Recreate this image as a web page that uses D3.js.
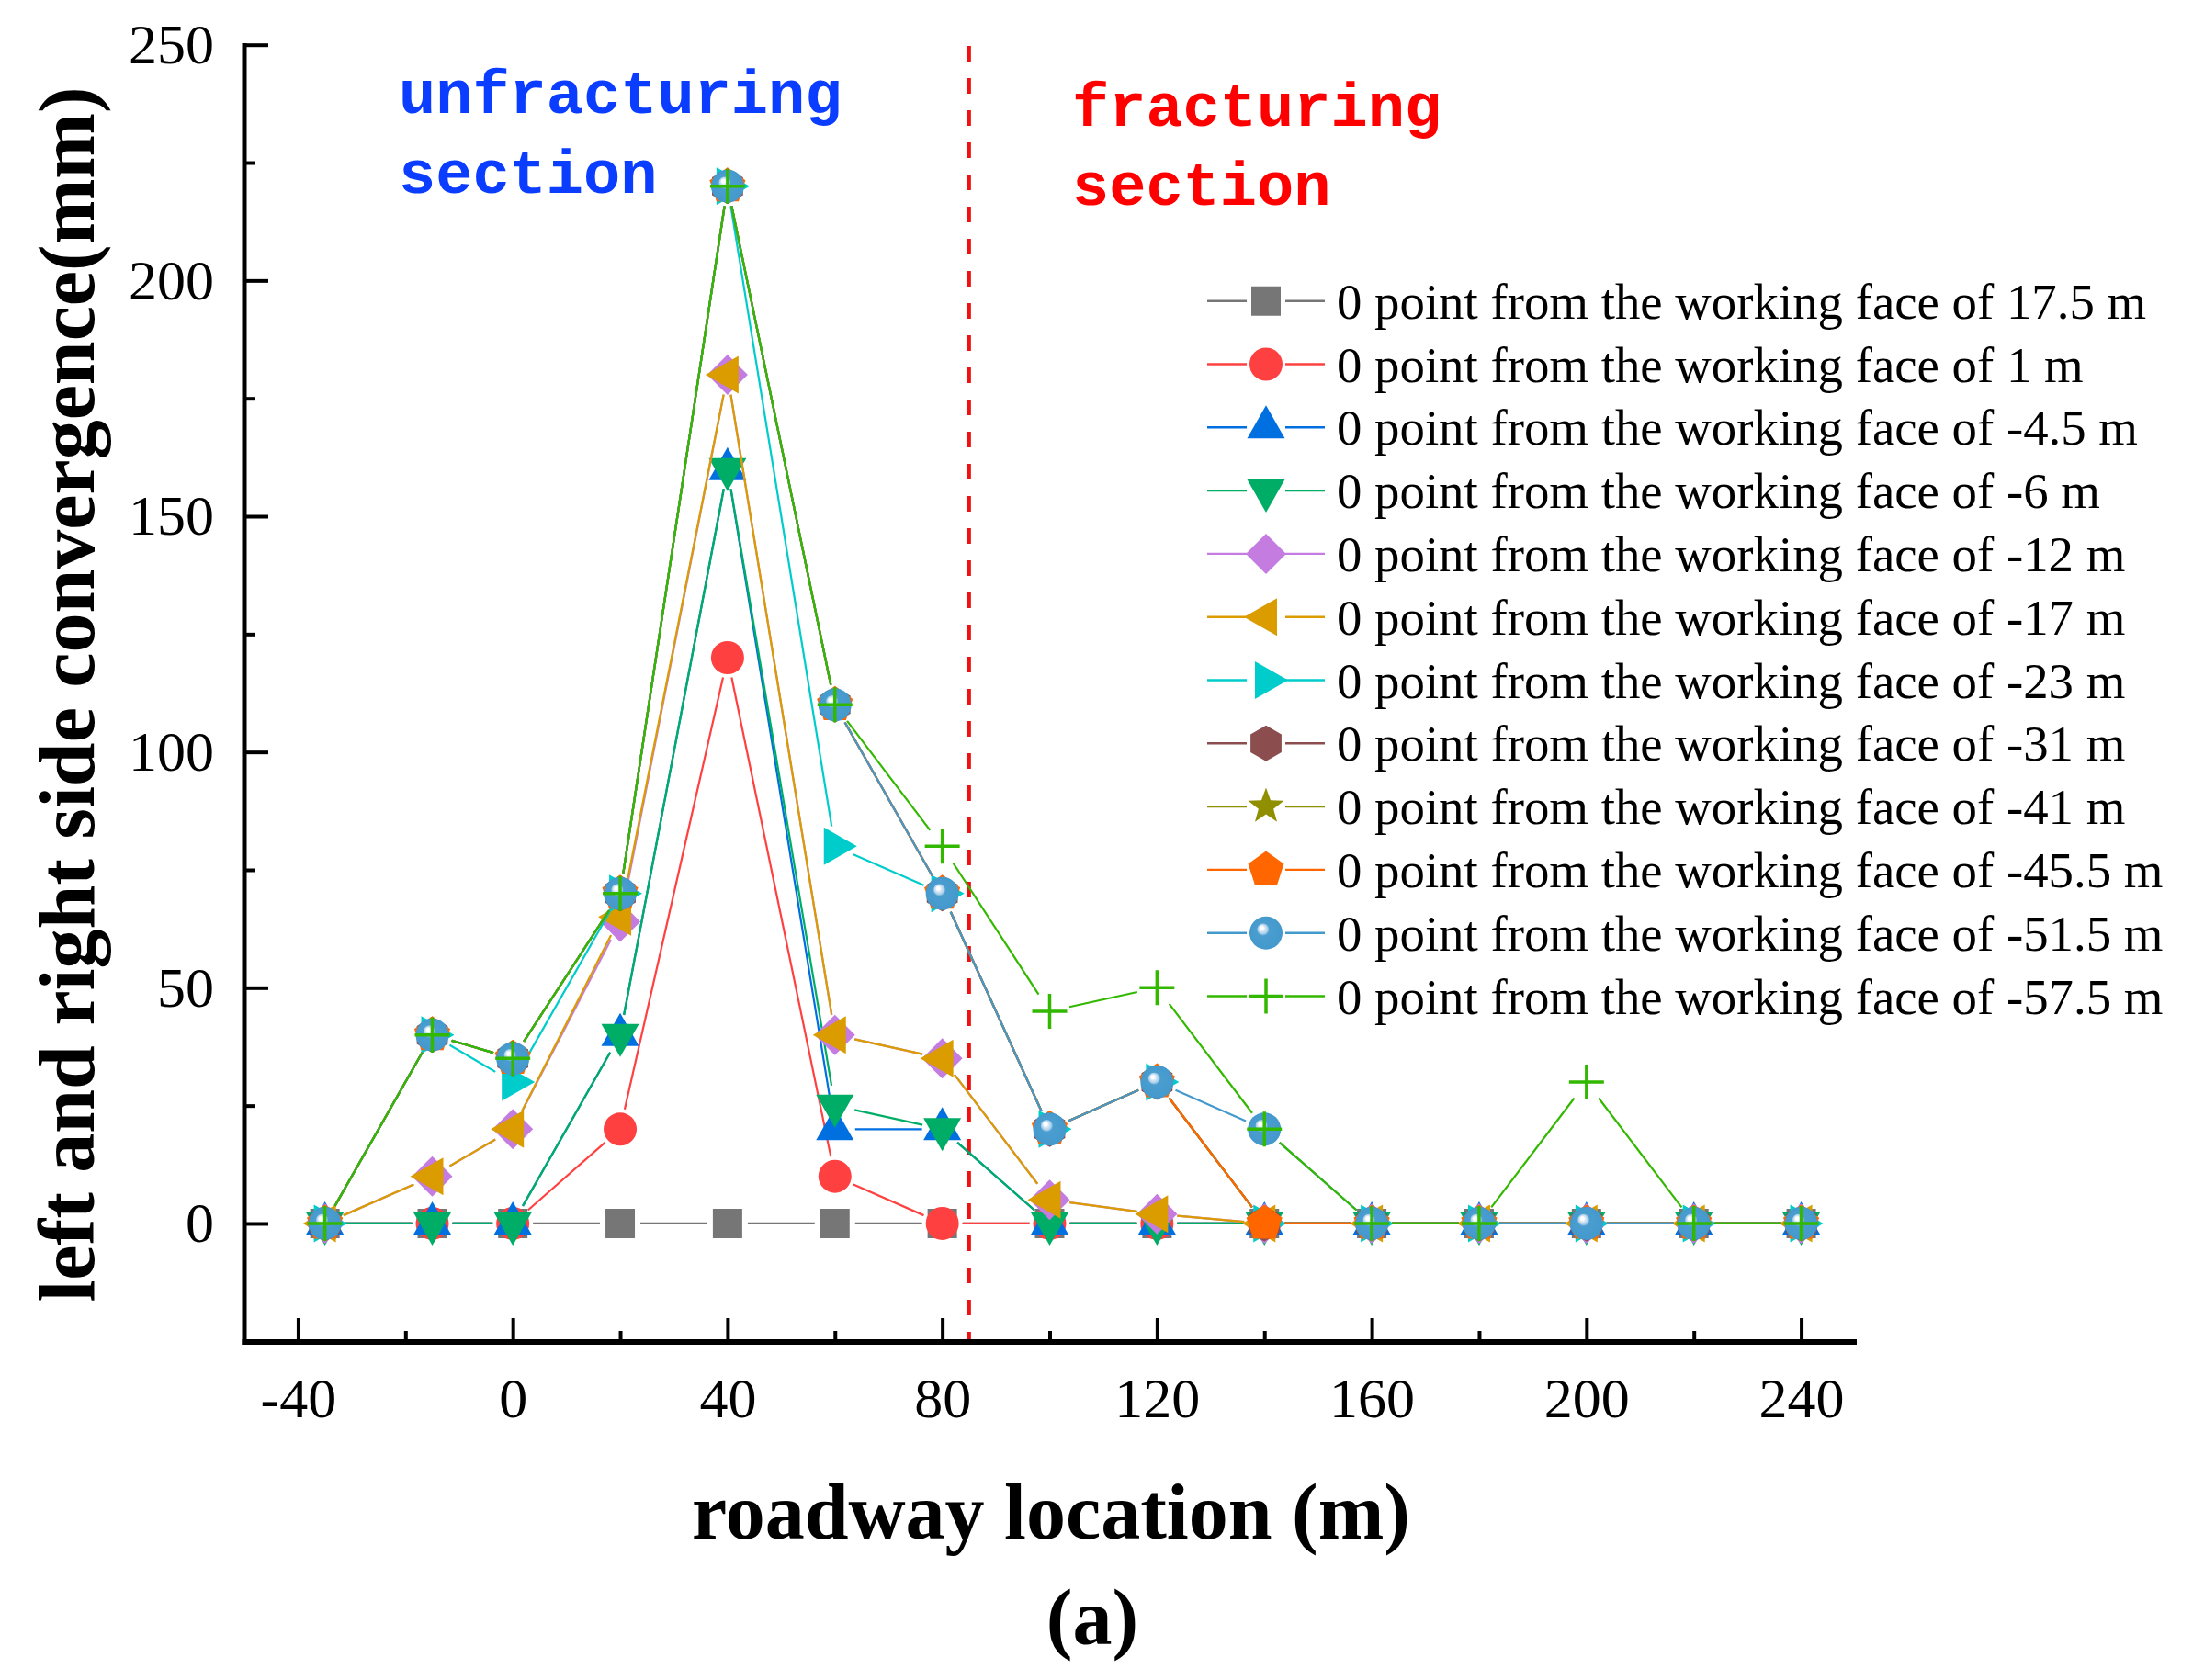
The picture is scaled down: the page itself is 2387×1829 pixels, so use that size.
<!DOCTYPE html>
<html><head><meta charset="utf-8">
<script src="https://cdn.jsdelivr.net/npm/d3@7"></script>
<style>body{margin:0;background:#fff}</style>
</head><body>
<script>
// ---------- data ----------
const roadwayLocation = [-35, -15, 0, 20, 40, 60, 80, 100, 120, 140, 160, 180, 200, 220, 240];
const seriesLabels = [
  "0 point from the working face of 17.5 m",
  "0 point from the working face of 1 m",
  "0 point from the working face of -4.5 m",
  "0 point from the working face of -6 m",
  "0 point from the working face of -12 m",
  "0 point from the working face of -17 m",
  "0 point from the working face of -23 m",
  "0 point from the working face of -31 m",
  "0 point from the working face of -41 m",
  "0 point from the working face of -45.5 m",
  "0 point from the working face of -51.5 m",
  "0 point from the working face of -57.5 m"
];
const conv_17_5 = [0, 0, 0, 0, 0, 0, 0, 0, 0, 0, 0, 0, 0, 0, 0];
const conv_1    = [0, 0, 0, 20, 120, 10, 0, 0, 0, 0, 0, 0, 0, 0, 0];
const conv_m4_5 = [0, 0, 0, 40, 160, 20, 20, 0, 0, 0, 0, 0, 0, 0, 0];
const conv_m6   = [0, 0, 0, 40, 160, 25, 20, 0, 0, 0, 0, 0, 0, 0, 0];
const conv_m12  = [0, 10, 20, 64, 180, 40, 35, 5, 2, 0, 0, 0, 0, 0, 0];
const conv_m17  = [0, 10, 20, 65, 180, 40, 35, 5, 2, 0, 0, 0, 0, 0, 0];
const conv_m23  = [0, 40, 30, 70, 220, 80, 70, 20, 30, 0, 0, 0, 0, 0, 0];
const conv_m31  = [0, 40, 35, 70, 220, 110, 70, 20, 30, 0, 0, 0, 0, 0, 0];
const conv_m41  = [0, 40, 35, 70, 220, 110, 70, 20, 30, 0, 0, 0, 0, 0, 0];
const conv_m45_5= [0, 40, 35, 70, 220, 110, 70, 20, 30, 0, 0, 0, 0, 0, 0];
const conv_m51_5= [0, 40, 35, 70, 220, 110, 70, 20, 30, 20, 0, 0, 0, 0, 0];
const conv_m57_5= [0, 40, 35, 70, 220, 110, 80, 45, 50, 20, 0, 0, 30, 0, 0];
const xTickValues = [-40, 0, 40, 80, 120, 160, 200, 240];
const xMinorTickValues = [-20, 20, 60, 100, 140, 180, 220];
const yTickValues = [0, 50, 100, 150, 200, 250];
const yMinorTickValues = [25, 75, 125, 175, 225];
const fractureBoundary = 85;

// ---------- styles ----------
const seriesValues = [conv_17_5, conv_1, conv_m4_5, conv_m6, conv_m12, conv_m17, conv_m23, conv_m31, conv_m41, conv_m45_5, conv_m51_5, conv_m57_5];
const colors = ["#767676", "#FF4040", "#006FE0", "#00AD66", "#C57CE0", "#DB9C00", "#00CCCC", "#8B4D4D", "#8F8F00", "#FF6600", "#4499CC", "#33B800"];
const shapes = ["square", "circle", "triUp", "triDown", "diamond", "triLeft", "triRight", "hexagon", "star", "pentagon", "ball", "plus"];

const W = 2387, H = 1829;
const svg = d3.select("body").append("svg").attr("width", W).attr("height", H);

const defs = svg.append("defs");
const grad = defs.append("radialGradient").attr("id", "ballGrad")
  .attr("cx", "0.5").attr("cy", "0.5").attr("r", "0.5").attr("fx", "0.36").attr("fy", "0.33");
[[0, "#ffffff"], [0.1, "#ffffff"], [0.18, "#d6e8f5"], [0.3, "#a9cde8"], [0.38, "#4a9dcf"], [1, "#4499CC"]]
  .forEach(([o, c]) => grad.append("stop").attr("offset", o).attr("stop-color", c));

const x = d3.scaleLinear().domain([-50, 250]).range([266, 2019]);
const y = d3.scaleLinear().domain([-25, 250]).range([1460.3, 48.7]);

function polygon(n, r, rot) {
  const pts = [];
  for (let i = 0; i < n; i++) {
    const a = rot + i * 2 * Math.PI / n;
    pts.push([r * Math.cos(a), r * Math.sin(a)]);
  }
  return "M" + pts.map(p => p.join(",")).join("L") + "Z";
}
function starPath(ro, ri) {
  const pts = [];
  for (let i = 0; i < 10; i++) {
    const r = i % 2 ? ri : ro;
    const a = -Math.PI / 2 + i * Math.PI / 5;
    pts.push([r * Math.cos(a), r * Math.sin(a)]);
  }
  return "M" + pts.map(p => p.join(",")).join("L") + "Z";
}
function markerPath(shape) {
  switch (shape) {
    case "square": return "M-16,-16H16V16H-16Z";
    case "circle": case "ball": return "M18,0A18,18 0 1,1 -18,0A18,18 0 1,1 18,0Z";
    case "triUp": return "M0,-24L20.5,12L-20.5,12Z";
    case "triDown": return "M0,24L20.5,-12L-20.5,-12Z";
    case "triLeft": return "M-24,0L12,-20.5L12,20.5Z";
    case "triRight": return "M24,0L-12,-20.5L-12,20.5Z";
    case "diamond": return "M0,-22L22,0L0,22L-22,0Z";
    case "hexagon": return polygon(6, 19.5, -Math.PI / 2);
    case "pentagon": return polygon(5, 20.5, -Math.PI / 2);
    case "star": return starPath(20.5, 8.5);
    case "plus": return "M-19,0H19M0,-19V19";
  }
}
function drawMarker(g, shape, color) {
  const p = g.append("path").attr("d", markerPath(shape));
  if (shape === "plus") p.attr("fill", "none").attr("stroke", color).attr("stroke-width", 3.5);
  else if (shape === "ball") p.attr("fill", "url(#ballGrad)");
  else p.attr("fill", color);
}

// ---------- axes ----------
const axisG = svg.append("g");
const yAxis = d3.axisLeft(y).tickValues(yTickValues).tickSize(-26).tickPadding(33).tickFormat(d => String(d));
const yMinor = d3.axisLeft(y).tickValues(yMinorTickValues).tickSize(-12).tickFormat("");
const xAxis = d3.axisBottom(x).tickValues(xTickValues).tickSize(-26).tickPadding(38).tickFormat(d => String(d));
const xMinor = d3.axisBottom(x).tickValues(xMinorTickValues).tickSize(-12).tickFormat("");

const yA = axisG.append("g").attr("transform", "translate(266,0)").call(yAxis);
const yM = axisG.append("g").attr("transform", "translate(266,0)").call(yMinor);
const xA = axisG.append("g").attr("transform", "translate(0,1461)").call(xAxis);
const xM = axisG.append("g").attr("transform", "translate(0,1461)").call(xMinor);
[yA, yM, xA, xM].forEach(g => {
  g.select(".domain").remove();
  g.selectAll(".tick line").attr("stroke", "#000").attr("stroke-width", 4);
  g.selectAll(".tick text").attr("font-family", "'Liberation Serif', 'Times New Roman', serif")
    .attr("font-size", 62).attr("fill", "#000");
});
axisG.append("line").attr("x1", 266).attr("x2", 266).attr("y1", 47).attr("y2", 1464)
  .attr("stroke", "#000").attr("stroke-width", 5);
axisG.append("line").attr("x1", 263.5).attr("x2", 2021).attr("y1", 1461).attr("y2", 1461)
  .attr("stroke", "#000").attr("stroke-width", 6);

// ---------- boundary ----------
svg.append("line").attr("x1", x(fractureBoundary)).attr("x2", x(fractureBoundary))
  .attr("y1", 50).attr("y2", 1458).attr("stroke", "#F01010").attr("stroke-width", 4)
  .attr("stroke-dasharray", "17,18");

// ---------- series ----------
const GAP = 22;
const plotG = svg.append("g");
seriesValues.forEach((vals, si) => {
  const pts = vals.map((v, i) => [x(roadwayLocation[i]), y(v)]);
  const segs = [];
  for (let i = 0; i < pts.length - 1; i++) {
    const [x1, y1] = pts[i], [x2, y2] = pts[i + 1];
    const L = Math.hypot(x2 - x1, y2 - y1);
    if (L <= 2 * GAP) continue;
    const ux = (x2 - x1) / L, uy = (y2 - y1) / L;
    segs.push([x1 + ux * GAP, y1 + uy * GAP, x2 - ux * GAP, y2 - uy * GAP]);
  }
  const g = plotG.append("g");
  g.selectAll("line").data(segs).join("line")
    .attr("x1", d => d[0]).attr("y1", d => d[1]).attr("x2", d => d[2]).attr("y2", d => d[3])
    .attr("stroke", colors[si]).attr("stroke-width", 2.2);
  g.selectAll("g.m").data(pts).join("g").attr("class", "m")
    .attr("transform", d => `translate(${d[0]},${d[1]})`)
    .each(function () { drawMarker(d3.select(this), shapes[si], colors[si]); });
});

// ---------- legend ----------
const legG = svg.append("g");
seriesLabels.forEach((lab, i) => {
  const cy = 327.7 + i * 68.8;
  const g = legG.append("g").attr("transform", `translate(0,${cy})`);
  g.append("line").attr("x1", 1314).attr("x2", 1357).attr("y1", 0).attr("y2", 0).attr("stroke", colors[i]).attr("stroke-width", 2.4);
  g.append("line").attr("x1", 1399).attr("x2", 1442).attr("y1", 0).attr("y2", 0).attr("stroke", colors[i]).attr("stroke-width", 2.4);
  drawMarker(g.append("g").attr("transform", "translate(1378,0)"), shapes[i], colors[i]);
  g.append("text").attr("x", 1455).attr("y", 19).text(lab)
    .attr("font-family", "'Liberation Serif', 'Times New Roman', serif").attr("font-size", 54.8).attr("fill", "#000");
});

// ---------- annotations ----------
const mono = "'Liberation Mono', 'Courier New', monospace";
function note(txt, xx, yy, col) {
  svg.append("text").attr("x", xx).attr("y", yy).text(txt).attr("font-family", mono)
    .attr("font-weight", "bold").attr("font-size", 67).attr("fill", col);
}
note("unfracturing", 434, 123, "#0A3DFF");
note("section", 434, 210, "#0A3DFF");
note("fracturing", 1167, 137, "#FF0000");
note("section", 1167, 223, "#FF0000");

// ---------- titles ----------
const serif = "'Liberation Serif', 'Times New Roman', serif";
svg.append("text").attr("transform", "translate(102,756) rotate(-90)").attr("text-anchor", "middle")
  .attr("font-family", serif).attr("font-weight", "bold").attr("font-size", 86).text("left and right side convergence(mm)");
svg.append("text").attr("x", 1144).attr("y", 1675).attr("text-anchor", "middle")
  .attr("font-family", serif).attr("font-weight", "bold").attr("font-size", 86).text("roadway location (m)");
svg.append("text").attr("x", 1189).attr("y", 1790).attr("text-anchor", "middle")
  .attr("font-family", serif).attr("font-weight", "bold").attr("font-size", 86).text("(a)");
</script>
</body></html>
